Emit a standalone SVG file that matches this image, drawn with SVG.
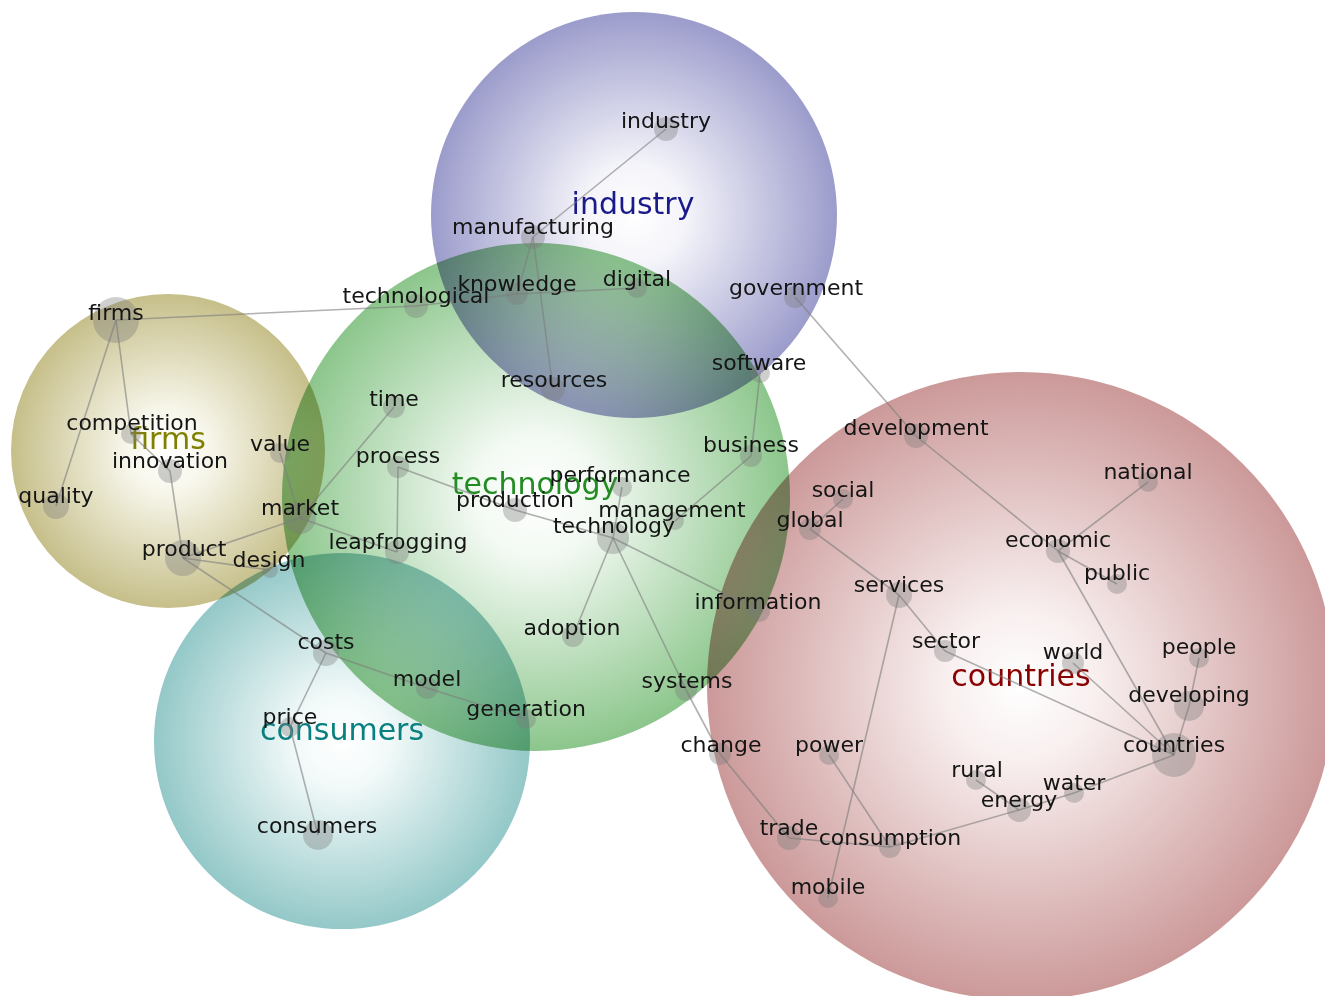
<svg xmlns="http://www.w3.org/2000/svg" width="1325" height="996" viewBox="0 0 1325 996">
<style>
.cl{mix-blend-mode:multiply}
.big{font-family:"DejaVu Sans","Liberation Sans",sans-serif;font-size:30px;text-anchor:middle}
.lbl{font-family:"DejaVu Sans","Liberation Sans",sans-serif;font-size:22px;text-anchor:middle;fill:#151515}
.dot{fill:#7a7a7a;fill-opacity:0.36}
#edges line{stroke:#7d7d7d;stroke-opacity:0.6;stroke-width:1.6}
</style>
<defs>
<radialGradient id="gInd"><stop offset="0" stop-color="#ffffff"/><stop offset="0.25" stop-color="#f4f4fa"/><stop offset="1" stop-color="#9c9ccc"/></radialGradient>
<radialGradient id="gTech"><stop offset="0" stop-color="#ffffff"/><stop offset="0.25" stop-color="#f2f9f2"/><stop offset="1" stop-color="#8cc68c"/></radialGradient>
<radialGradient id="gFirms"><stop offset="0" stop-color="#ffffff"/><stop offset="0.25" stop-color="#f8f7ec"/><stop offset="1" stop-color="#c6bf8a"/></radialGradient>
<radialGradient id="gCons"><stop offset="0" stop-color="#ffffff"/><stop offset="0.25" stop-color="#f2f9f9"/><stop offset="1" stop-color="#94c8c8"/></radialGradient>
<radialGradient id="gCtry"><stop offset="0" stop-color="#ffffff"/><stop offset="0.25" stop-color="#f8eeee"/><stop offset="1" stop-color="#cc9999"/></radialGradient>
</defs>
<rect width="1325" height="996" fill="#ffffff"/>
<g id="clusters">
<g id="cluster-industry"><circle class="cl" cx="634" cy="215" r="203" fill="url(#gInd)"/></g>
<g id="cluster-firms"><circle class="cl" cx="168" cy="451" r="157" fill="url(#gFirms)"/></g>
<g id="cluster-consumers"><circle class="cl" cx="342" cy="741" r="188" fill="url(#gCons)"/></g>
<g id="cluster-countries"><circle class="cl" cx="1021" cy="686" r="314" fill="url(#gCtry)"/></g>
<g id="cluster-technology"><circle class="cl" cx="536" cy="497" r="254" fill="url(#gTech)"/></g>
</g>
<g id="cluster-labels">
<text class="big" x="633" y="214" fill="#1a1a8a">industry</text>
<text class="big" x="535" y="494" fill="#228b22">technology</text>
<text class="big" x="168" y="449" fill="#808000">firms</text>
<text class="big" x="342" y="740" fill="#0a7f7f">consumers</text>
<text class="big" x="1021" y="686" fill="#8b0000">countries</text>
</g>
<g id="edges">
<line x1="666" y1="129" x2="533" y2="237"/>
<line x1="533" y1="237" x2="517" y2="294"/>
<line x1="533" y1="237" x2="553" y2="389"/>
<line x1="416" y1="306" x2="517" y2="294"/>
<line x1="517" y1="294" x2="637" y2="288"/>
<line x1="116" y1="320" x2="416" y2="306"/>
<line x1="795" y1="297" x2="916" y2="436"/>
<line x1="760" y1="373" x2="751" y2="456"/>
<line x1="751" y1="456" x2="675" y2="521"/>
<line x1="116" y1="320" x2="131" y2="434"/>
<line x1="131" y1="434" x2="170" y2="471"/>
<line x1="116" y1="320" x2="56" y2="506"/>
<line x1="170" y1="471" x2="183" y2="558"/>
<line x1="280" y1="453" x2="300" y2="518"/>
<line x1="394" y1="407" x2="300" y2="518"/>
<line x1="300" y1="518" x2="183" y2="558"/>
<line x1="300" y1="518" x2="397" y2="552"/>
<line x1="183" y1="558" x2="270" y2="570"/>
<line x1="183" y1="558" x2="326" y2="653"/>
<line x1="398" y1="467" x2="397" y2="552"/>
<line x1="398" y1="467" x2="515" y2="510"/>
<line x1="515" y1="510" x2="613" y2="538"/>
<line x1="622" y1="487" x2="613" y2="538"/>
<line x1="613" y1="538" x2="573" y2="636"/>
<line x1="613" y1="538" x2="686" y2="690"/>
<line x1="686" y1="690" x2="720" y2="754"/>
<line x1="613" y1="538" x2="759" y2="611"/>
<line x1="326" y1="653" x2="290" y2="727"/>
<line x1="290" y1="727" x2="318" y2="835"/>
<line x1="326" y1="653" x2="427" y2="688"/>
<line x1="427" y1="688" x2="526" y2="719"/>
<line x1="916" y1="436" x2="1058" y2="551"/>
<line x1="1058" y1="551" x2="1148" y2="482"/>
<line x1="1058" y1="551" x2="1117" y2="584"/>
<line x1="1058" y1="551" x2="1174" y2="755"/>
<line x1="810" y1="529" x2="843" y2="499"/>
<line x1="810" y1="529" x2="899" y2="595"/>
<line x1="899" y1="595" x2="945" y2="651"/>
<line x1="945" y1="651" x2="1174" y2="755"/>
<line x1="1073" y1="663" x2="1174" y2="755"/>
<line x1="1199" y1="658" x2="1189" y2="706"/>
<line x1="1189" y1="706" x2="1174" y2="755"/>
<line x1="899" y1="595" x2="828" y2="898"/>
<line x1="829" y1="755" x2="890" y2="847"/>
<line x1="720" y1="754" x2="789" y2="838"/>
<line x1="789" y1="838" x2="890" y2="847"/>
<line x1="890" y1="847" x2="1019" y2="810"/>
<line x1="1019" y1="810" x2="976" y2="780"/>
<line x1="1019" y1="810" x2="1074" y2="793"/>
<line x1="1074" y1="793" x2="1174" y2="755"/>
</g>
<g id="nodes">
<g id="n-industry"><circle class="dot" cx="666" cy="129" r="12"/><text class="lbl" x="666" y="128">industry</text></g>
<g id="n-manufacturing"><circle class="dot" cx="533" cy="237" r="12"/><text class="lbl" x="533" y="234">manufacturing</text></g>
<g id="n-knowledge"><circle class="dot" cx="517" cy="294" r="11"/><text class="lbl" x="517" y="291">knowledge</text></g>
<g id="n-digital"><circle class="dot" cx="637" cy="288" r="10"/><text class="lbl" x="637" y="286">digital</text></g>
<g id="n-technological"><circle class="dot" cx="416" cy="306" r="12"/><text class="lbl" x="416" y="303">technological</text></g>
<g id="n-government"><circle class="dot" cx="795" cy="297" r="11"/><text class="lbl" x="796" y="295">government</text></g>
<g id="n-firms"><circle class="dot" cx="116" cy="320" r="23"/><text class="lbl" x="116" y="320">firms</text></g>
<g id="n-software"><circle class="dot" cx="760" cy="373" r="10"/><text class="lbl" x="759" y="370">software</text></g>
<g id="n-resources"><circle class="dot" cx="553" cy="389" r="12"/><text class="lbl" x="554" y="387">resources</text></g>
<g id="n-time"><circle class="dot" cx="394" cy="407" r="11"/><text class="lbl" x="394" y="406">time</text></g>
<g id="n-competition"><circle class="dot" cx="131" cy="434" r="10"/><text class="lbl" x="132" y="430">competition</text></g>
<g id="n-development"><circle class="dot" cx="916" cy="436" r="12"/><text class="lbl" x="916" y="435">development</text></g>
<g id="n-value"><circle class="dot" cx="280" cy="453" r="10"/><text class="lbl" x="280" y="451">value</text></g>
<g id="n-business"><circle class="dot" cx="751" cy="456" r="11"/><text class="lbl" x="751" y="452">business</text></g>
<g id="n-process"><circle class="dot" cx="398" cy="467" r="11"/><text class="lbl" x="398" y="463">process</text></g>
<g id="n-innovation"><circle class="dot" cx="170" cy="471" r="12"/><text class="lbl" x="170" y="468">innovation</text></g>
<g id="n-national"><circle class="dot" cx="1148" cy="482" r="10"/><text class="lbl" x="1148" y="479">national</text></g>
<g id="n-social"><circle class="dot" cx="843" cy="499" r="10"/><text class="lbl" x="843" y="497">social</text></g>
<g id="n-performance"><circle class="dot" cx="622" cy="487" r="10"/><text class="lbl" x="620" y="482">performance</text></g>
<g id="n-quality"><circle class="dot" cx="56" cy="506" r="13"/><text class="lbl" x="56" y="503">quality</text></g>
<g id="n-production"><circle class="dot" cx="515" cy="510" r="12"/><text class="lbl" x="515" y="507">production</text></g>
<g id="n-market"><circle class="dot" cx="300" cy="518" r="16"/><text class="lbl" x="300" y="515">market</text></g>
<g id="n-management"><circle class="dot" cx="675" cy="521" r="9"/><text class="lbl" x="672" y="517">management</text></g>
<g id="n-global"><circle class="dot" cx="810" cy="529" r="11"/><text class="lbl" x="810" y="527">global</text></g>
<g id="n-technology"><circle class="dot" cx="613" cy="538" r="16"/><text class="lbl" x="614" y="533">technology</text></g>
<g id="n-leapfrogging"><circle class="dot" cx="397" cy="552" r="12"/><text class="lbl" x="398" y="549">leapfrogging</text></g>
<g id="n-economic"><circle class="dot" cx="1058" cy="551" r="12"/><text class="lbl" x="1058" y="547">economic</text></g>
<g id="n-product"><circle class="dot" cx="183" cy="558" r="18"/><text class="lbl" x="184" y="556">product</text></g>
<g id="n-design"><circle class="dot" cx="270" cy="570" r="8"/><text class="lbl" x="269" y="567">design</text></g>
<g id="n-public"><circle class="dot" cx="1117" cy="584" r="10"/><text class="lbl" x="1117" y="580">public</text></g>
<g id="n-services"><circle class="dot" cx="899" cy="595" r="13"/><text class="lbl" x="899" y="592">services</text></g>
<g id="n-information"><circle class="dot" cx="759" cy="611" r="11"/><text class="lbl" x="758" y="609">information</text></g>
<g id="n-adoption"><circle class="dot" cx="573" cy="636" r="11"/><text class="lbl" x="572" y="635">adoption</text></g>
<g id="n-costs"><circle class="dot" cx="326" cy="653" r="13"/><text class="lbl" x="326" y="649">costs</text></g>
<g id="n-sector"><circle class="dot" cx="945" cy="651" r="11"/><text class="lbl" x="946" y="648">sector</text></g>
<g id="n-world"><circle class="dot" cx="1073" cy="663" r="11"/><text class="lbl" x="1073" y="659">world</text></g>
<g id="n-people"><circle class="dot" cx="1199" cy="658" r="10"/><text class="lbl" x="1199" y="654">people</text></g>
<g id="n-model"><circle class="dot" cx="427" cy="688" r="11"/><text class="lbl" x="427" y="686">model</text></g>
<g id="n-systems"><circle class="dot" cx="686" cy="690" r="11"/><text class="lbl" x="687" y="688">systems</text></g>
<g id="n-developing"><circle class="dot" cx="1189" cy="706" r="15"/><text class="lbl" x="1189" y="702">developing</text></g>
<g id="n-generation"><circle class="dot" cx="526" cy="719" r="10"/><text class="lbl" x="526" y="716">generation</text></g>
<g id="n-price"><circle class="dot" cx="290" cy="727" r="10"/><text class="lbl" x="290" y="724">price</text></g>
<g id="n-change"><circle class="dot" cx="720" cy="754" r="11"/><text class="lbl" x="721" y="752">change</text></g>
<g id="n-power"><circle class="dot" cx="829" cy="755" r="10"/><text class="lbl" x="829" y="752">power</text></g>
<g id="n-countries"><circle class="dot" cx="1174" cy="755" r="22"/><text class="lbl" x="1174" y="752">countries</text></g>
<g id="n-rural"><circle class="dot" cx="976" cy="780" r="10"/><text class="lbl" x="977" y="777">rural</text></g>
<g id="n-water"><circle class="dot" cx="1074" cy="793" r="10"/><text class="lbl" x="1074" y="790">water</text></g>
<g id="n-energy"><circle class="dot" cx="1019" cy="810" r="12"/><text class="lbl" x="1019" y="807">energy</text></g>
<g id="n-consumers"><circle class="dot" cx="318" cy="835" r="15"/><text class="lbl" x="317" y="833">consumers</text></g>
<g id="n-trade"><circle class="dot" cx="789" cy="838" r="12"/><text class="lbl" x="789" y="835">trade</text></g>
<g id="n-consumption"><circle class="dot" cx="890" cy="847" r="11"/><text class="lbl" x="890" y="845">consumption</text></g>
<g id="n-mobile"><circle class="dot" cx="828" cy="898" r="10"/><text class="lbl" x="828" y="894">mobile</text></g>
</g>
</svg>
